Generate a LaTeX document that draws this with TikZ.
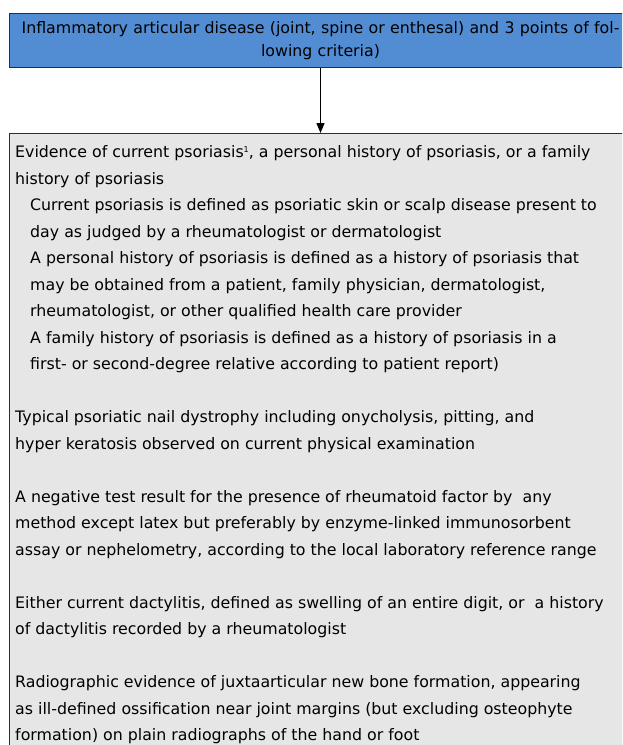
\documentclass[tikz,border=0pt]{standalone}
\usepackage{fontspec}
\setmainfont{DejaVu Sans}
\usetikzlibrary{arrows.meta}
\definecolor{topblue}{RGB}{82,141,212}
\definecolor{boxgray}{RGB}{230,230,230}
\definecolor{edgecol}{RGB}{45,45,45}
\tikzset{
  topbox/.style={draw=edgecol, line width=1pt, fill=topblue, anchor=north west,
    minimum width=622pt, minimum height=54pt, inner sep=0pt, align=center,
    text width=618pt, font=\fontsize{15.8}{23.5}\selectfont},
  critbox/.style={draw=edgecol, line width=1pt, fill=boxgray, anchor=north west,
    minimum width=622pt, minimum height=640pt, inner sep=0pt},
  crittext/.style={anchor=base west, inner sep=0pt},
  flowarrow/.style={draw=black, line width=1.3pt, -{Triangle[length=10pt,width=8pt]}},
}
\newcommand{\ind}{\hspace*{15pt}}
\newcommand{\supone}{\raisebox{5.5pt}{\fontsize{8}{8}\selectfont 1}}
\begin{document}
\begin{tikzpicture}[x=1pt,y=-1pt]
\path[use as bounding box, clip] (0,0) rectangle (622,745);
\node[topbox] (top) at (9,13) {Inflammatory articular disease (joint, spine or enthesal) and 3 points of fol-\\lowing criteria)};
\node[critbox] (crit) at (9,133) {};
\draw[flowarrow] (top.south) -- (crit.north);
\node[crittext] (crittxt) at (15,157.5) {\parbox[t]{700pt}{\fontsize{15.8}{26.5}\selectfont\raggedright
Evidence of current psoriasis\supone, a personal history of psoriasis, or a family\\
history of psoriasis\\
\ind Current psoriasis is defined as psoriatic skin or scalp disease present to\\
\ind day as judged by a rheumatologist or dermatologist\\
\ind A personal history of psoriasis is defined as a history of psoriasis that\\
\ind may be obtained from a patient, family physician, dermatologist,\\
\ind rheumatologist, or other qualified health care provider\\
\ind A family history of psoriasis is defined as a history of psoriasis in a\\
\ind first- or second-degree relative according to patient report)\\
\mbox{}\\
Typical psoriatic nail dystrophy including onycholysis, pitting, and\\
hyper keratosis observed on current physical examination\\
\mbox{}\\
A negative test result for the presence of rheumatoid factor by~ any\\
method except latex but preferably by enzyme-linked immunosorbent\\
assay or nephelometry, according to the local laboratory reference range\\
\mbox{}\\
Either current dactylitis, defined as swelling of an entire digit, or~ a history\\
of dactylitis recorded by a rheumatologist\\
\mbox{}\\
Radiographic evidence of juxtaarticular new bone formation, appearing\\
as ill-defined ossification near joint margins (but excluding osteophyte\\
formation) on plain radiographs of the hand or foot}};
\end{tikzpicture}
\end{document}
